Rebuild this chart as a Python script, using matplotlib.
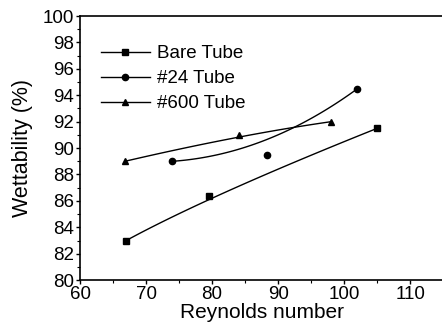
import numpy as np
import matplotlib.pyplot as plt
from matplotlib.ticker import MultipleLocator

plt.rcParams['font.family'] = ['Liberation Sans', 'DejaVu Sans']

# measured wettability vs Reynolds number for each tube surface
bare_re = [67, 79.5, 105]
bare_wet = [83, 86.4, 91.5]
t24_re = [74, 88.3, 102]
t24_wet = [89, 89.5, 94.5]
t600_re = [66.8, 84, 98]
t600_wet = [89, 91, 92]

labels = ["Bare Tube", "#24 Tube", "#600 Tube"]
markers = ["s", "o", "^"]


def bspline(xs, ys, n=100):
    # quadratic B-spline through the end points, middle point as control
    t = np.linspace(0, 1, n)
    x = (1 - t)**2 * xs[0] + 2 * t * (1 - t) * xs[1] + t**2 * xs[2]
    y = (1 - t)**2 * ys[0] + 2 * t * (1 - t) * ys[1] + t**2 * ys[2]
    return x, y


fig = plt.figure(figsize=(4.42, 3.28), dpi=100)
ax = fig.add_axes([0.181, 0.146, 0.822, 0.805])

series = [(bare_re, bare_wet), (t24_re, t24_wet), (t600_re, t600_wet)]
for (xs, ys), lab, m in zip(series, labels, markers):
    cx, cy = bspline(xs, ys)
    ax.plot(cx, cy, color='black', lw=1.0)
    ax.plot(xs, ys, ls='none', marker=m, color='black', ms=4.5)
    # legend handle: line with marker
    ax.plot([], [], color='black', lw=1.0, marker=m, ms=4.5, label=lab)

ax.set_xlim(60, 115)
ax.set_ylim(80, 100)
ax.xaxis.set_major_locator(MultipleLocator(10))
ax.xaxis.set_minor_locator(MultipleLocator(5))
ax.yaxis.set_major_locator(MultipleLocator(2))
ax.yaxis.set_minor_locator(MultipleLocator(1))
ax.tick_params(which='major', direction='out', length=3, width=1, labelsize=13.5, pad=1.5)
ax.tick_params(which='minor', direction='out', length=2, width=0.8)
ax.spines['right'].set_visible(False)
for s in ['left', 'bottom', 'top']:
    ax.spines[s].set_linewidth(1.2)

ax.set_xlabel("Reynolds number", fontsize=15, labelpad=0)
ax.set_ylabel("Wettability (%)", fontsize=15.5, labelpad=7)

leg = ax.legend(loc='upper left', frameon=False, fontsize=13.5, handlelength=2.6,
                handletextpad=0.37, labelspacing=0.42, bbox_to_anchor=(0.058, 0.89),
                borderaxespad=0.0, borderpad=0.0)

fig.savefig("out.png", dpi=100)
